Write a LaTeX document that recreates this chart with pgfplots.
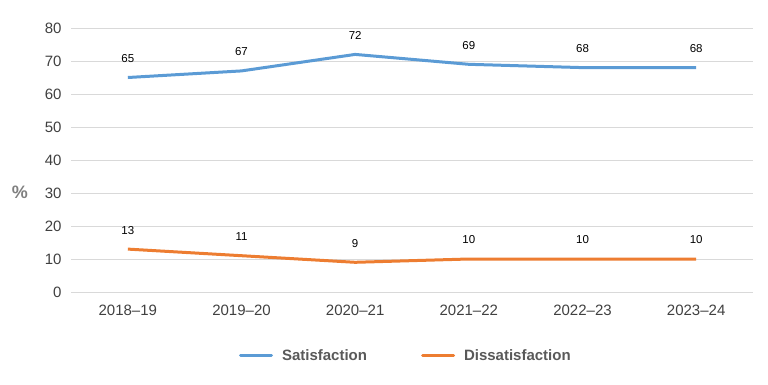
\documentclass[border=0pt]{standalone}
\usepackage{pgfplots}
\pgfplotsset{compat=1.18}
\usepackage{fontspec}
\setmainfont{Liberation Sans}
\definecolor{sat}{HTML}{5B9BD5}
\definecolor{dis}{HTML}{ED7D31}
\definecolor{gridc}{HTML}{D9D9D9}
\definecolor{tickc}{HTML}{404040}
\definecolor{legc}{HTML}{595959}
\definecolor{pctc}{HTML}{7F7F7F}
\begin{document}
\begin{tikzpicture}
\useasboundingbox (0,0) rectangle (768pt,384pt);
\begin{axis}[
  at={(71pt,92pt)}, anchor=south west,
  scale only axis, width=682pt, height=264pt,
  xmin=-0.5, xmax=5.5, ymin=0, ymax=80,
  xtick={0,1,2,3,4,5},
  xticklabels={2018--19,2019--20,2020--21,2021--22,2022--23,2023--24},
  ytick={0,10,...,80},
  ymajorgrids, grid style={gridc, line width=1pt},
  axis line style={draw=none},
  major tick length=0pt,
  tick label style={font=\fontsize{15}{17}\selectfont, text=tickc},
  /pgf/number format/assume math mode=true,
  yticklabel style={xshift=-6pt},
  xticklabel style={yshift=-9pt},
  clip=false,
  nodes near coords,
  every node near coord/.append style={font=\fontsize{11.5}{13}\selectfont, text=black, anchor=center, yshift=19pt},
  legend columns=2,
  legend style={at={(0.491,-0.242)}, anchor=center, draw=none, fill=none,
    font=\fontsize{15}{17}\selectfont\bfseries, text=legc,
    /tikz/every odd column/.append style={column sep=7pt},
    /tikz/every even column/.append style={column sep=52pt}},
  legend image code/.code={\draw[#1, line width=3pt, line cap=round] (0pt,0pt) -- (31pt,0pt);},
]
\addplot[sat, line width=3pt, mark=none] coordinates {(0,65) (1,67) (2,72) (3,69) (4,68) (5,68)};
\addlegendentry{Satisfaction}
\addplot[dis, line width=3pt, mark=none] coordinates {(0,13) (1,11) (2,9) (3,10) (4,10) (5,10)};
\addlegendentry{Dissatisfaction}
\node[font=\fontsize{18}{20}\selectfont\bfseries, text=pctc] at (axis description cs:-0.0748,0.379) {\%};
\end{axis}
\end{tikzpicture}
\end{document}
